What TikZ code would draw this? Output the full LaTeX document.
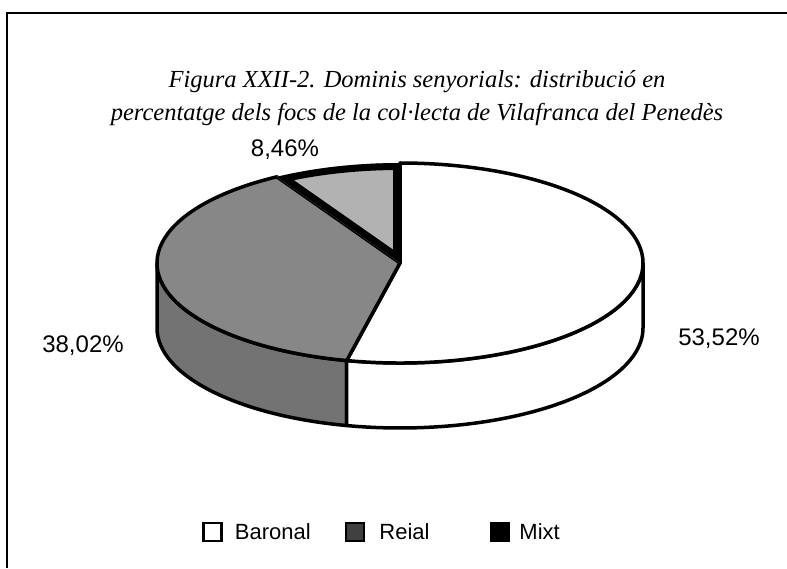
\documentclass[tikz,border=0pt]{standalone}
\usepackage{fontspec}
\setmainfont{Liberation Serif}
\setsansfont{Liberation Sans}
\usetikzlibrary{positioning}

\begin{document}
\begin{tikzpicture}[x=1pt,y=1pt]

  \tikzstyle{slice}=[draw=black,line width=3.5pt,line join=round]
  \tikzstyle{pct}=[font=\sffamily\fontsize{24}{24}\selectfont,inner sep=0pt]
  \tikzstyle{legbox}=[draw=black,line width=2.5pt,minimum size=18pt,inner sep=0pt]
  \tikzstyle{legtext}=[font=\sffamily\fontsize{22}{22}\selectfont,inner sep=0pt]

  \useasboundingbox (0,0) rectangle (787,568);
  \draw[line width=2pt] (7,0) -- (7,555) -- (787,555);

  \node[align=center,font=\itshape\fontsize{24.5}{33}\selectfont] (title) at (417,470)
    {Figura XXII-2. Dominis senyorials: distribució en\\percentatge dels focs de la col·lecta de Vilafranca del Penedès};

  \def\rx{243}
  \def\ry{100}
  \def\dep{65}
  \coordinate (c) at (400,305);

  % sides
  \path[slice,fill=black!55] (c) ++(180:{\rx} and {\ry})
    arc[start angle=180,end angle=257.33,x radius=\rx,y radius=\ry] -- ++(0,-\dep)
    arc[start angle=257.33,end angle=180,x radius=\rx,y radius=\ry] -- cycle;
  \path[slice,fill=white] (c) ++(257.33:{\rx} and {\ry})
    arc[start angle=257.33,end angle=360,x radius=\rx,y radius=\ry] -- ++(0,-\dep)
    arc[start angle=360,end angle=257.33,x radius=\rx,y radius=\ry] -- cycle;

  % top
  \path[slice,fill=white] (c) -- ++(257.33:{\rx} and {\ry})
    arc[start angle=257.33,end angle=450,x radius=\rx,y radius=\ry] -- cycle;
  \path[slice,fill=black!47] (c) -- ++(120.46:{\rx} and {\ry})
    arc[start angle=120.46,end angle=257.33,x radius=\rx,y radius=\ry] -- cycle;
  \begin{scope}
    \clip (c) -- ++(90:{\rx} and {\ry})
      arc[start angle=90,end angle=120.46,x radius=\rx,y radius=\ry] -- cycle;
    \path[slice,fill=black!30,line width=14pt] (c) -- ++(90:{\rx} and {\ry})
      arc[start angle=90,end angle=120.46,x radius=\rx,y radius=\ry] -- cycle;
  \end{scope}

  \node[pct] (mixt) at (285,418) {8,46\%};
  \node[pct] (reial) at (83,222) {38,02\%};
  \node[pct] (baronal) at (719,229) {53,52\%};

  % legend
  \node[legbox,fill=white] (bbox) at (212.5,36) {};
  \node[legtext,right=12pt of bbox] (btext) {Baronal};
  \node[legbox,fill=black!75] (rbox) at (355,36) {};
  \node[legtext,right=14pt of rbox] (rtext) {Reial};
  \node[legbox,fill=black] (mbox) at (500,36) {};
  \node[legtext,right=9pt of mbox] (mtext) {Mixt};

\end{tikzpicture}
\end{document}
